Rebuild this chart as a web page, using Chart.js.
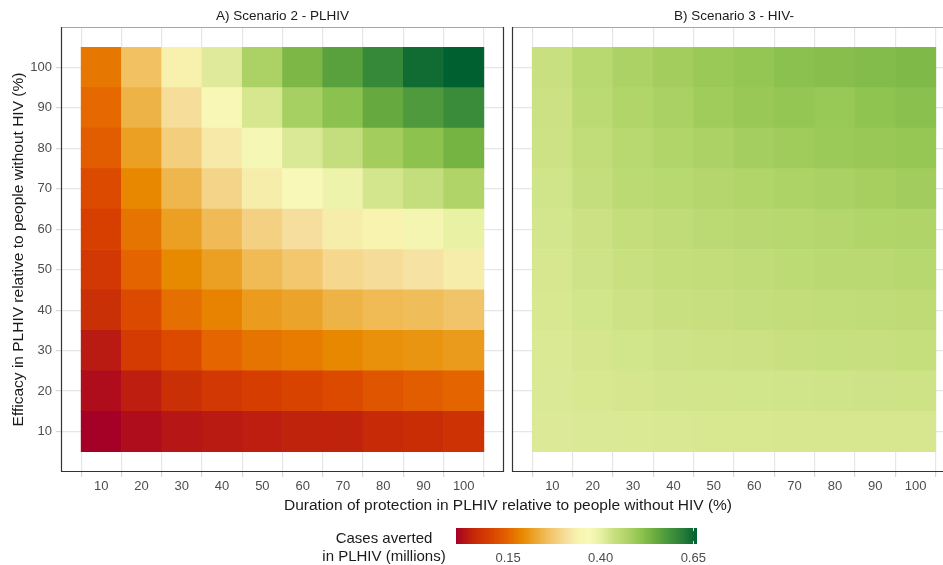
<!DOCTYPE html>
<html><head><meta charset="utf-8">
<script src="https://cdn.jsdelivr.net/npm/chart.js@4"></script>
<style>
html,body{margin:0;padding:0;background:#fff;overflow:hidden;width:943px;height:565px;}
body{position:relative;font-family:"Liberation Sans",Arial,sans-serif;}
canvas{position:absolute;}
.txt{position:absolute;white-space:nowrap;color:#1a1a1a;}
</style></head><body>
<canvas id="a" width="508" height="500" style="left:0;top:0"></canvas>
<canvas id="b" width="460" height="500" style="left:508px;top:0"></canvas>
<canvas id="cb" width="280" height="50" style="left:440px;top:515px"></canvas>
<div class="txt" id="xt" style="left:508px;top:505px;transform:translate(-50%,-50%);font-size:15.5px"></div>
<div class="txt" id="lt" style="left:384px;top:547px;transform:translate(-50%,-50%);font-size:15px;text-align:center;line-height:18px"></div>
<script>
// ---------- data ----------
const durations = [10,20,30,40,50,60,70,80,90,100];
const efficacies = [10,20,30,40,50,60,70,80,90,100];
const panelTitles = ["A) Scenario 2 - PLHIV", "B) Scenario 3 - HIV-"];
const xTitle = "Duration of protection in PLHIV relative to people without HIV (%)";
const yTitle = "Efficacy in PLHIV relative to people without HIV (%)";
const legendTitle = ["Cases averted", "in PLHIV (millions)"];
// cases averted (millions); one row per efficacy (10 ... 100), columns = durations
const scenario2PLHIV = [
  [0.010,0.025,0.035,0.040,0.045,0.050,0.050,0.060,0.065,0.075],
  [0.025,0.045,0.070,0.085,0.095,0.105,0.115,0.130,0.140,0.150],
  [0.040,0.090,0.115,0.152,0.167,0.175,0.188,0.198,0.203,0.210],
  [0.070,0.115,0.162,0.183,0.212,0.220,0.240,0.250,0.255,0.265],
  [0.085,0.150,0.190,0.215,0.250,0.268,0.295,0.303,0.315,0.330],
  [0.098,0.167,0.215,0.252,0.285,0.308,0.330,0.338,0.380,0.398],
  [0.115,0.188,0.245,0.290,0.330,0.370,0.390,0.422,0.440,0.470],
  [0.140,0.215,0.280,0.325,0.375,0.415,0.440,0.485,0.510,0.535],
  [0.155,0.240,0.305,0.360,0.420,0.480,0.512,0.550,0.575,0.600],
  [0.170,0.260,0.335,0.410,0.475,0.527,0.565,0.605,0.645,0.660]
];
const scenario3HIVneg = [
  [0.413,0.415,0.416,0.417,0.418,0.418,0.419,0.419,0.420,0.420],
  [0.415,0.418,0.421,0.423,0.424,0.425,0.426,0.427,0.428,0.429],
  [0.416,0.421,0.425,0.428,0.430,0.432,0.434,0.436,0.437,0.439],
  [0.418,0.425,0.430,0.434,0.437,0.440,0.443,0.445,0.447,0.449],
  [0.420,0.428,0.434,0.441,0.444,0.447,0.451,0.454,0.456,0.460],
  [0.422,0.432,0.441,0.447,0.452,0.457,0.460,0.463,0.467,0.470],
  [0.426,0.440,0.452,0.458,0.463,0.468,0.473,0.478,0.482,0.486],
  [0.430,0.445,0.458,0.468,0.475,0.483,0.488,0.493,0.497,0.500],
  [0.432,0.452,0.468,0.478,0.488,0.497,0.502,0.498,0.507,0.513],
  [0.435,0.458,0.475,0.485,0.495,0.503,0.512,0.515,0.520,0.525]
];
const legendTicks = [0.15, 0.40, 0.65];
const legendRange = [0.0095, 0.66];

document.getElementById('xt').textContent = xTitle;
document.getElementById('lt').innerHTML = legendTitle.join('<br>');

// ---------- palette ----------
const colorStops = [
  [0.010,'#a50026'],[0.056,'#c42808'],[0.100,'#d84000'],[0.146,'#e46000'],
  [0.190,'#e88a00'],[0.236,'#eeb040'],[0.270,'#f2c870'],[0.310,'#f6e0a0'],
  [0.340,'#f8f4b0'],[0.370,'#f8f8b8'],[0.400,'#e8f0a4'],[0.435,'#c8e080'],
  [0.470,'#b0d468'],[0.507,'#90c450'],[0.540,'#70b040'],[0.579,'#4a983c'],
  [0.620,'#2a8038'],[0.660,'#006030']
];
function hex2rgb(h){return [parseInt(h.slice(1,3),16),parseInt(h.slice(3,5),16),parseInt(h.slice(5,7),16)];}
function colorFor(v){
  if(v<=colorStops[0][0]) return colorStops[0][1];
  for(let i=1;i<colorStops.length;i++){
    if(v<=colorStops[i][0]){
      const [v0,c0]=colorStops[i-1],[v1,c1]=colorStops[i];
      const t=(v-v0)/(v1-v0), a=hex2rgb(c0), b=hex2rgb(c1);
      const m=a.map((x,k)=>Math.round(x+(b[k]-x)*t));
      return `rgb(${m[0]},${m[1]},${m[2]})`;
    }
  }
  return colorStops[colorStops.length-1][1];
}

const FONT = '"Liberation Sans", Arial, sans-serif';

function makeDatasets(matrix){
  return efficacies.map((e,r)=>({
    data: durations.map(d=>({x:d, y:[e-5, e+5]})),
    backgroundColor: durations.map((d,c)=>colorFor(matrix[r][c])),
    borderWidth:0, grouped:false, barPercentage:1, categoryPercentage:1
  }));
}

const panelPlugin = {
  id:'panelDeco',
  afterDatasetsDraw(chart, args, opts){
    const {ctx, chartArea:ca} = chart;
    ctx.save();
    ctx.lineWidth = 1.2;
    ctx.strokeStyle = '#a6a6a6';
    ctx.beginPath(); ctx.moveTo(ca.left, ca.top+0.5); ctx.lineTo(ca.right, ca.top+0.5); ctx.stroke();
    ctx.strokeStyle = '#333333';
    ctx.beginPath();
    ctx.moveTo(ca.left+0.5, ca.top); ctx.lineTo(ca.left+0.5, ca.bottom-0.5);
    ctx.lineTo(ca.right-0.5, ca.bottom-0.5); ctx.lineTo(ca.right-0.5, ca.top);
    ctx.stroke();
    ctx.fillStyle = '#1a1a1a';
    ctx.font = '13.5px ' + FONT;
    ctx.textAlign = 'center'; ctx.textBaseline = 'middle';
    ctx.fillText(opts.text, (ca.left+ca.right)/2, 16);
    ctx.restore();
  }
};

function panelOptions(title, showY, padding){
  const gridCol = '#e6e6e6';
  return {
    responsive:false, animation:false,
    layout:{padding},
    plugins:{legend:{display:false}, tooltip:{enabled:false}, panelDeco:{text:title}},
    scales:{
      x:{type:'linear', min:0, max:110, offset:false,
        afterBuildTicks:s=>{ s.ticks = durations.map(v=>({value:v})); },
        afterFit:s=>{ s.height = 28; },
        ticks:{font:{size:13, family:FONT}, color:'#4d4d4d', padding:2, autoSkip:false, maxRotation:0},
        grid:{color:gridCol, lineWidth:1.2, tickLength:5, tickColor:'#d6d6d6'},
        border:{display:false}},
      y:{type:'linear', min:0, max:110,
        afterBuildTicks:s=>{ s.ticks = efficacies.map(v=>({value:v})); },
        afterFit:s=>{ s.width = showY ? 61 : 0; },
        ticks:{display:showY, font:{size:13, family:FONT}, color:'#4d4d4d', padding:4, autoSkip:false},
        grid:{color:gridCol, lineWidth:1.2, tickLength:5, drawTicks:showY, tickColor:'#d6d6d6'},
        title:{display:showY, text:yTitle, font:{size:15.5, family:FONT}, color:'#1a1a1a', padding:{top:9,bottom:0}},
        border:{display:false}}
    }
  };
}

new Chart(document.getElementById('a'), {
  type:'bar',
  data:{datasets:makeDatasets(scenario2PLHIV)},
  options:panelOptions(panelTitles[0], true, {left:0, top:27, right:4, bottom:0}),
  plugins:[panelPlugin]
});
new Chart(document.getElementById('b'), {
  type:'bar',
  data:{datasets:makeDatasets(scenario3HIVneg)},
  options:panelOptions(panelTitles[1], false, {left:4, top:27, right:12, bottom:0}),
  plugins:[panelPlugin]
});

// ---------- colour bar ----------
const gradientPlugin = {
  id:'gradBar',
  beforeDatasetsDraw(chart){
    const {ctx, chartArea:ca, scales:{x}} = chart;
    const x0 = x.getPixelForValue(legendRange[0]), x1 = x.getPixelForValue(legendRange[1]);
    const g = ctx.createLinearGradient(x0,0,x1,0);
    g.addColorStop(0, colorFor(legendRange[0]));
    colorStops.forEach(([v,c])=>{
      const o = (v-legendRange[0])/(legendRange[1]-legendRange[0]);
      if(o>0 && o<=1) g.addColorStop(o, c);
    });
    ctx.save();
    ctx.fillStyle = g;
    ctx.fillRect(ca.left, ca.top, ca.right-ca.left, ca.bottom-ca.top);
    ctx.strokeStyle = 'rgba(255,255,255,0.85)'; ctx.lineWidth = 1;
    const px = Math.round(x.getPixelForValue(legendTicks[legendTicks.length-1]))+0.5;
    ctx.beginPath(); ctx.moveTo(px, ca.top); ctx.lineTo(px, ca.top+3);
    ctx.moveTo(px, ca.bottom-3); ctx.lineTo(px, ca.bottom); ctx.stroke();
    ctx.restore();
  }
};
new Chart(document.getElementById('cb'), {
  type:'scatter',
  data:{datasets:[{data:[]}]},
  options:{
    responsive:false, animation:false,
    layout:{padding:{left:16, right:23, top:13, bottom:0}},
    plugins:{legend:{display:false}, tooltip:{enabled:false}},
    scales:{
      x:{type:'linear', min:legendRange[0], max:legendRange[1],
        afterBuildTicks:s=>{ s.ticks = legendTicks.map(v=>({value:v})); },
        afterFit:s=>{ s.height = 21; },
        ticks:{callback:v=>Number(v).toFixed(2), padding:7, font:{size:13, family:FONT}, color:'#4d4d4d', maxRotation:0, autoSkip:false},
        grid:{display:false, drawTicks:false}, border:{display:false}},
      y:{display:false, min:0, max:1}
    }
  },
  plugins:[gradientPlugin]
});
</script>
</body></html>
